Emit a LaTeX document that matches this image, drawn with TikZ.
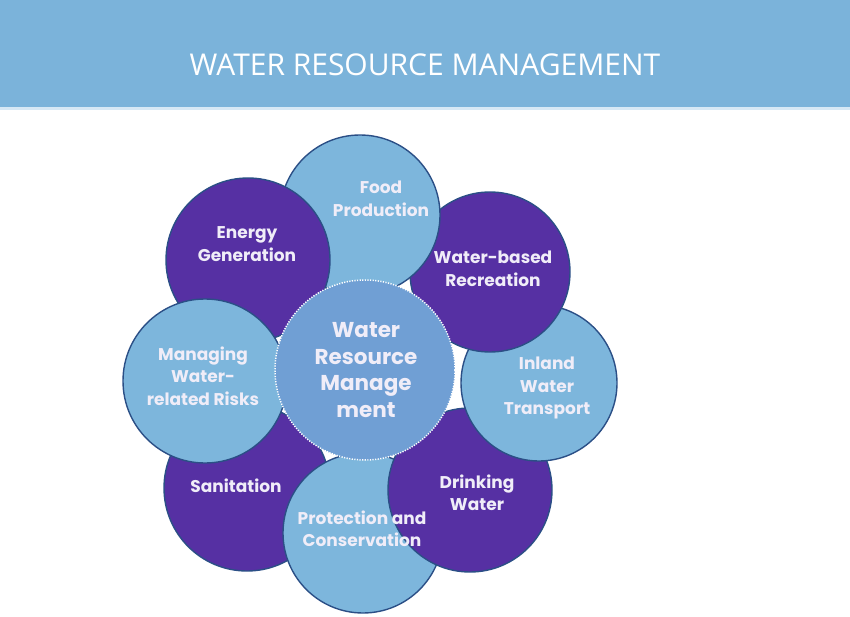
\documentclass[tikz,border=0pt]{standalone}
\usepackage{fontspec}
\setmainfont{Open Sans}
\newfontfamily\petalfont{Poppins}
\definecolor{headblue}{HTML}{7BB3DA}
\definecolor{headline}{HTML}{D6E8F5}
\definecolor{lightpetal}{HTML}{7DB6DC}
\definecolor{darkpetal}{HTML}{5630A3}
\definecolor{petaledge}{HTML}{2B4F86}
\definecolor{centerfill}{HTML}{709FD4}
\definecolor{petaltext}{HTML}{F0EDF8}
\tikzset{
  petal/.style={circle, draw=petaledge, line width=1.4pt, inner sep=0pt, minimum size=#1},
  lightp/.style={petal=#1, fill=lightpetal},
  darkp/.style={petal=#1, fill=darkpetal},
  ptext/.style={text=petaltext, font=\petalfont\bfseries\fontsize{17}{22.5}\selectfont, align=center, inner sep=0pt},
  ctext/.style={text=petaltext, font=\petalfont\bfseries\fontsize{21.5}{26.5}\selectfont, align=center, inner sep=0pt},
  hubcircle/.style={circle, fill=centerfill, draw=white, line width=1.5pt, dash pattern=on 1.2pt off 1.4pt, inner sep=0pt, minimum size=180pt},
  titletext/.style={text=white, font=\fontsize{30}{34}\selectfont, inner sep=0pt}
}
\begin{document}
\begin{tikzpicture}[x=1pt,y=-1pt]
\useasboundingbox (0,0) rectangle (850,617);
\fill[white] (0,0) rectangle (850,617);
\fill[headblue] (0,0) rectangle (850,107);
\fill[headline] (0,107) rectangle (850,110);
\node[titletext] (title) at (425,65) {WATER RESOURCE MANAGEMENT};

% petals, drawn from bottom layer to top layer
\node[darkp=166pt]  (san)   at (247,488) {};
\node[lightp=160pt] (prot)  at (363,533) {};
\node[darkp=164pt]  (drink) at (470,490) {};
\node[lightp=156pt] (inl)   at (539,383) {};
\node[darkp=160pt]  (rec)   at (490,272) {};
\node[lightp=160pt] (food)  at (360,215) {};
\node[darkp=164pt]  (ener)  at (248,260) {};
\node[lightp=164pt] (man)   at (205,381) {};
\node[hubcircle]    (hub)   at (365,370) {};

% labels
\node[ptext] (tfood)  at (381,199) {Food\\Production};
\node[ptext] (tener)  at (247,244) {Energy\\Generation};
\node[ptext] (trec)   at (493,269) {Water-based\\Recreation};
\node[ptext] (tman)   at (203,376) {Managing\\Water-\\related Risks};
\node[ptext] (tinl)   at (547,388) {Inland\\Water\\Transport};
\node[ptext] (tsan)   at (236,486) {Sanitation};
\node[ptext] (tdrink) at (477,493) {Drinking\\Water};
\node[ptext] (tprot)  at (362,529) {Protection and\\Conservation};
\node[ctext] (thub)   at (366,370) {Water\\Resource\\Manage\\ment};
\end{tikzpicture}
\end{document}
